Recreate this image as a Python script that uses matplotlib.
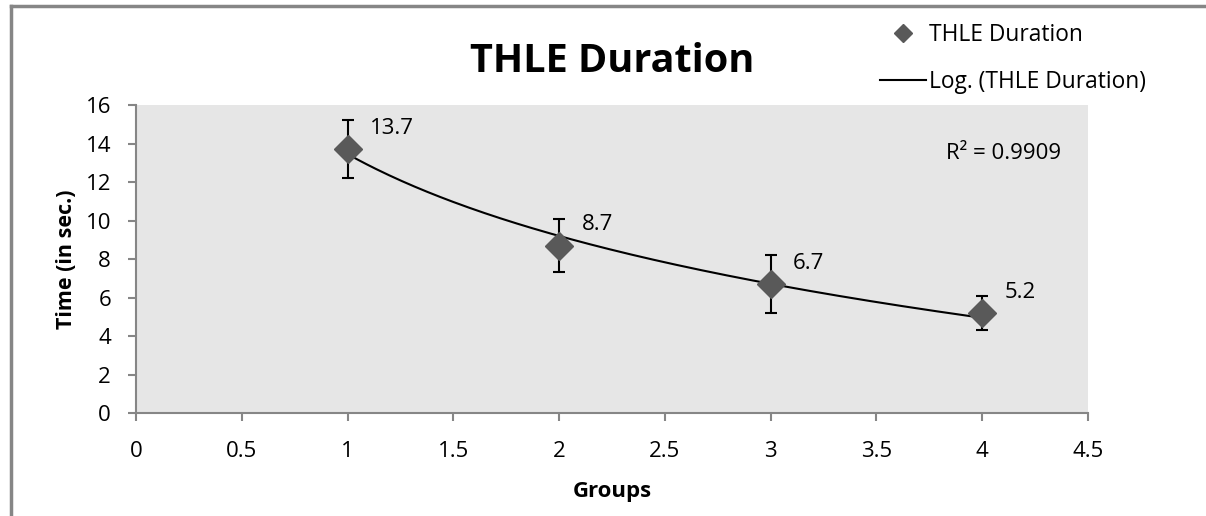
import numpy as np
import matplotlib.pyplot as plt
from matplotlib.lines import Line2D

plt.rcParams['font.family'] = ['Open Sans', 'DejaVu Sans']

# datos del grafico
grupos = [1, 2, 3, 4]
duracion = [13.7, 8.7, 6.7, 5.2]
error = [1.5, 1.4, 1.5, 0.9]
etiquetas = ['13.7', '8.7', '6.7', '5.2']
r2_texto = 'R² = 0.9909'

color_punto = '#595959'
color_eje = '#868686'

fig = plt.figure(figsize=(12.06, 5.16), dpi=100)
ax = fig.add_axes([0.1128, 0.1996, 0.7894, 0.5969])
ax.set_facecolor('#e6e6e6')

# marco exterior (solo borde izquierdo y superior se ven)
x0 = 11 / 1206
y1 = 1 - 6 / 516
fig.add_artist(Line2D([x0, x0], [-0.05, y1], transform=fig.transFigure,
                      color=color_eje, linewidth=2.5, clip_on=False))
fig.add_artist(Line2D([x0, 1.05], [y1, y1], transform=fig.transFigure,
                      color=color_eje, linewidth=2.5, clip_on=False))

# tendencia logaritmica
a, b = np.polyfit(np.log(grupos), duracion, 1)
xs = np.linspace(grupos[0], grupos[-1], 200)
ax.plot(xs, a * np.log(xs) + b, color='black', linewidth=1.5, zorder=2)

ax.errorbar(grupos, duracion, yerr=error, fmt='none', ecolor='black',
            elinewidth=1.5, capsize=4, capthick=1.5, zorder=3)
ax.plot(grupos, duracion, linestyle='none', marker='D', markersize=14,
        color=color_punto, zorder=4)

for x, y, t in zip(grupos, duracion, etiquetas):
    ax.annotate(t, (x, y), xytext=(16, 15), textcoords='offset points',
                fontsize=16, va='center', ha='left')

ax.text(3.83, 13.5, r2_texto, fontsize=16, va='center', ha='left')

ax.set_xlim(0, 4.5)
ax.set_ylim(0, 16)
ax.set_xticks(np.arange(0, 4.51, 0.5))
ax.set_xticklabels(['0', '0.5', '1', '1.5', '2', '2.5', '3', '3.5', '4', '4.5'])
ax.set_yticks(np.arange(0, 17, 2))
ax.tick_params(axis='both', direction='out', length=6, width=1.5,
               color=color_eje, labelsize=16)
ax.tick_params(axis='x', pad=14)
ax.tick_params(axis='y', pad=12)
for lado in ['top', 'right']:
    ax.spines[lado].set_visible(False)
for lado in ['left', 'bottom']:
    ax.spines[lado].set_color(color_eje)
    ax.spines[lado].set_linewidth(1.5)

ax.set_xlabel('Groups', fontsize=16, fontweight='bold', labelpad=14)
ax.set_ylabel('Time (in sec.)', fontsize=15.5, fontweight='bold', labelpad=6)
ax.set_title('THLE Duration', fontsize=28.5, fontweight='bold', pad=24)

manijas = [
    Line2D([], [], linestyle='none', marker='D', markersize=9, color=color_punto),
    Line2D([], [], color='black', linewidth=1.5),
]
fig.legend(manijas, ['THLE Duration', 'Log. (THLE Duration)'],
           loc='upper left', bbox_to_anchor=(880 / 1206, 1 - 23 / 516),
           frameon=False, fontsize=16.4, handlelength=2.0, handletextpad=0.15,
           labelspacing=1.0, borderpad=0, borderaxespad=0)

fig.savefig('out.png', dpi=100)
